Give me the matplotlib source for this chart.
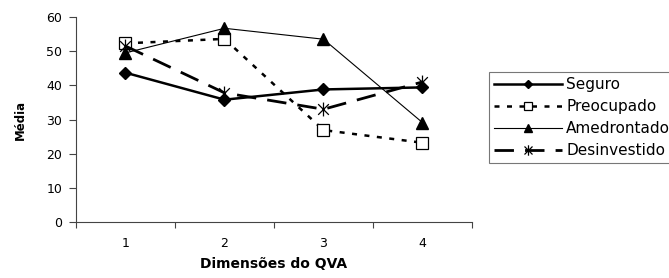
import matplotlib
matplotlib.use("Agg")
import matplotlib.pyplot as plt
from matplotlib.path import Path

plt.rcParams['font.family'] = ['DejaVu Sans']

categories = [1, 2, 3, 4]
seguro = [43.7, 35.8, 38.8, 39.4]
preocupado = [52.3, 53.6, 26.9, 23.2]
amedrontado = [49.5, 56.7, 53.5, 29.1]
desinvestido = [51.5, 37.8, 33.0, 41.0]
yticks = [0, 10, 20, 30, 40, 50, 60]

star = Path([(-1, -1), (1, 1), (-1, 1), (1, -1), (0, -1.3), (0, 1.3)],
            [Path.MOVETO, Path.LINETO, Path.MOVETO, Path.LINETO, Path.MOVETO, Path.LINETO])

fig = plt.figure(figsize=(6.69, 2.78), dpi=100)
ax = fig.add_axes([0.1136, 0.2014, 0.7055 - 0.1136, 0.9388 - 0.2014])

ax.plot(categories, seguro, color='black', lw=1.8, marker='D', ms=6, label='Seguro')
ax.plot(categories, preocupado, color='black', lw=1.8, ls=(0, (2, 3)), marker='s', ms=8,
        mfc='white', mec='black', mew=0.9, label='Preocupado')
ax.plot(categories, amedrontado, color='black', lw=0.8, marker='^', ms=8, label='Amedrontado')
ax.plot(categories, desinvestido, color='black', lw=2.0, ls=(0, (7, 4)), marker=star, ms=10,
        mew=0.9, label='Desinvestido')

ax.set_xlim(0.5, 4.5)
ax.set_ylim(0, 60)
ax.set_yticks(yticks)
ax.set_xticks([0.5, 1.5, 2.5, 3.5, 4.5])
ax.set_xticklabels([])
ax.set_xticks(categories, minor=True)
ax.set_xticklabels([str(c) for c in categories], minor=True)
ax.tick_params(axis='x', which='minor', length=0, labelsize=9, pad=11)
ax.tick_params(axis='x', which='major', length=4, width=0.8, direction='out', color='#444444')
ax.tick_params(axis='y', length=5, width=0.8, direction='out', labelsize=9, pad=5,
               color='#444444')
for s in ['top', 'right']:
    ax.spines[s].set_visible(False)
for s in ['left', 'bottom']:
    ax.spines[s].set_color('#444444')
    ax.spines[s].set_linewidth(0.8)

ax.set_xlabel('Dimensões do QVA', fontsize=10, fontweight='bold', labelpad=5)
ax.set_ylabel('Média', fontsize=8.5, fontweight='bold', labelpad=14)

leg = fig.legend(loc='upper left', bbox_to_anchor=(0.731, 0.741), frameon=True, fancybox=False,
                 edgecolor='#555555', fontsize=11, handlelength=4.4, handletextpad=0.3,
                 labelspacing=0.45, borderpad=0.35, borderaxespad=0, markerscale=0.75)
leg.get_frame().set_linewidth(0.8)

fig.savefig('out.png', dpi=100)
